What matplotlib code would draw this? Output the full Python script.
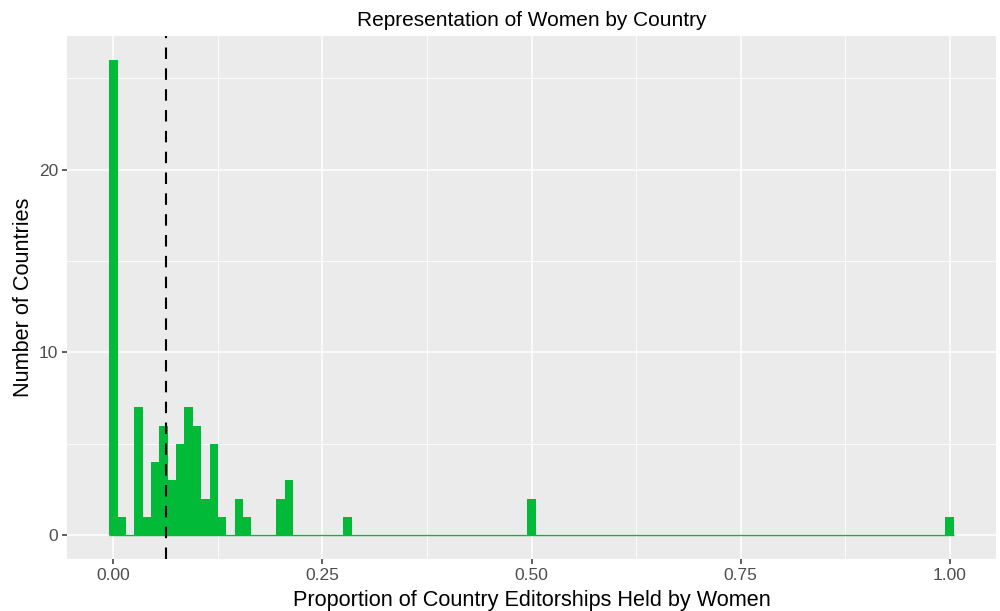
import numpy as np
import matplotlib
matplotlib.use('Agg')
import matplotlib.pyplot as plt

# histogram bins (centre of each 0.01-wide bin) and number of countries in it
bin_centers = [0.00, 0.01, 0.03, 0.04, 0.05, 0.06, 0.07, 0.08, 0.09, 0.10,
               0.11, 0.12, 0.13, 0.15, 0.16, 0.20, 0.21, 0.28, 0.50, 1.00]
counts = [26, 1, 7, 1, 4, 6, 3, 5, 7, 6,
          2, 5, 1, 2, 1, 2, 3, 1, 2, 1]
bin_width = 0.01
ref_line = 0.0626   # dashed reference line

x_ticks = [0.0, 0.25, 0.5, 0.75, 1.0]
x_ticklabels = ['0.00', '0.25', '0.50', '0.75', '1.00']
y_ticks = [0, 10, 20]

green = '#00BA38'
plt.rcParams['font.family'] = ['Liberation Sans', 'DejaVu Sans']

fig = plt.figure(figsize=(10, 6.11), dpi=100)
ax = fig.add_axes([0.067, 0.085, 0.929, 0.856])
ax.set_facecolor('#EBEBEB')

ax.bar(bin_centers, counts, width=bin_width, color=green, linewidth=0, zorder=3)
# zero-height bins show up as a thin line along the baseline
ax.hlines(0, bin_centers[0] - bin_width / 2, bin_centers[-1] + bin_width / 2,
          color=green, linewidth=1.0, zorder=3)
ax.axvline(ref_line, color='black', linewidth=1.5, linestyle=(0, (5.5, 4.5)), zorder=4)

lo = min(bin_centers) - bin_width / 2
hi = max(bin_centers) + bin_width / 2
pad = (hi - lo) * 0.05
ax.set_xlim(lo - pad, hi + pad)
ax.set_ylim(-max(counts) * 0.05, max(counts) * 1.05)

ax.set_xticks(x_ticks)
ax.set_xticklabels(x_ticklabels)
ax.set_yticks(y_ticks)
ax.set_xticks([0.125, 0.375, 0.625, 0.875], minor=True)
ax.set_yticks([5, 15, 25], minor=True)
ax.grid(which='major', color='white', linewidth=1.15)
ax.grid(which='minor', color='white', linewidth=0.6)
ax.set_axisbelow(True)
for s in ax.spines.values():
    s.set_visible(False)
ax.tick_params(which='major', length=3.5, width=1.1, color='#333333',
               labelsize=12.5, labelcolor='#4D4D4D', pad=3)
ax.tick_params(which='minor', length=0)

ax.set_title('Representation of Women by Country', fontsize=15, pad=7)
ax.set_xlabel('Proportion of Country Editorships Held by Women', fontsize=15.6, labelpad=5)
ax.set_ylabel('Number of Countries', fontsize=15.6, labelpad=3)

fig.savefig('out.png', dpi=100)
